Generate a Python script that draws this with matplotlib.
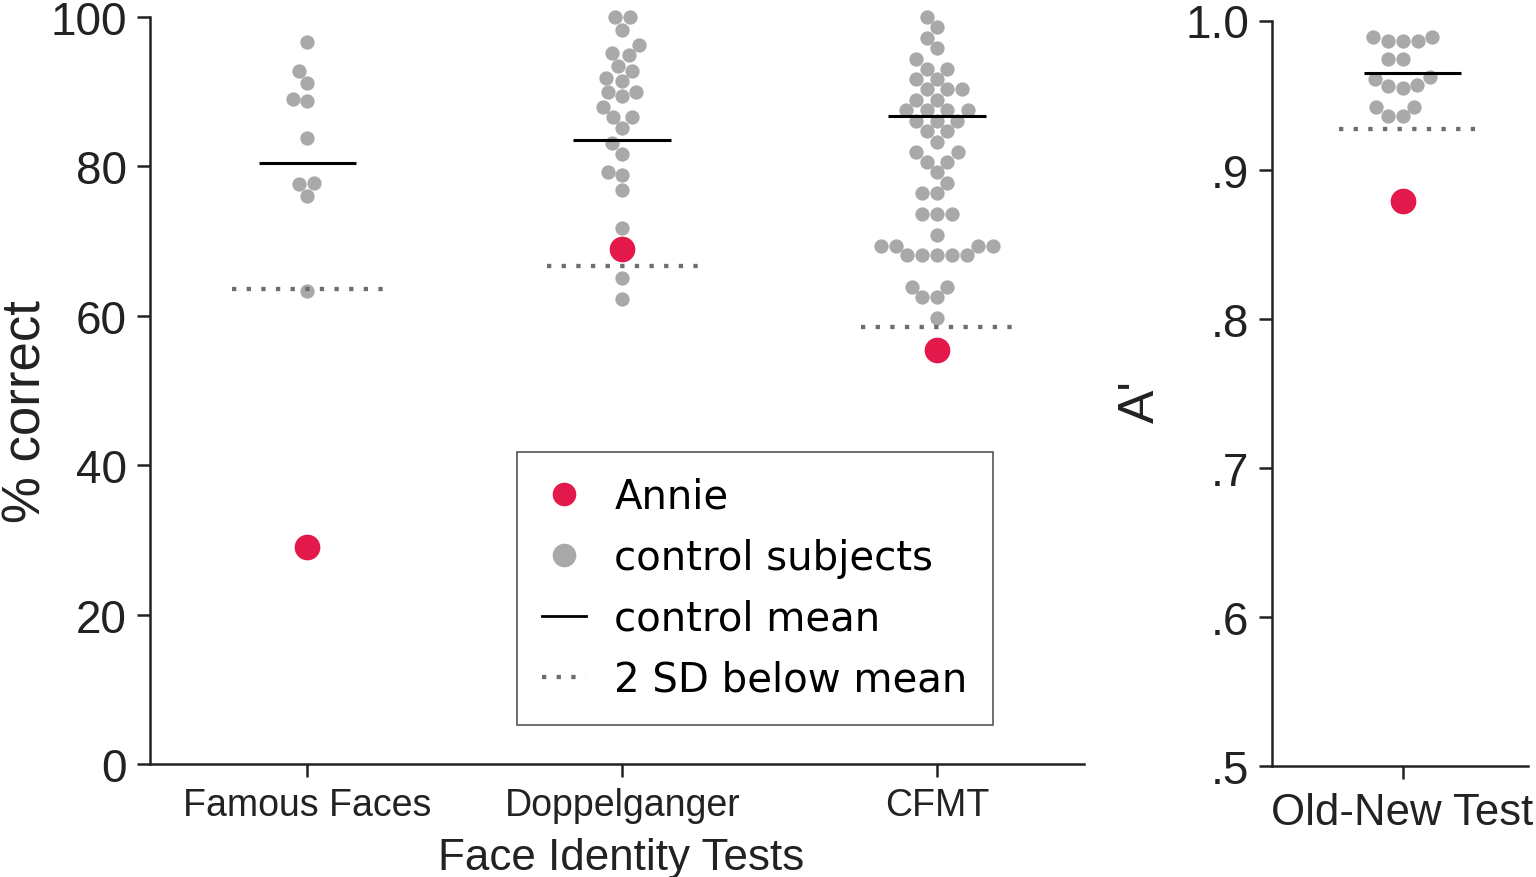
import matplotlib
matplotlib.use("Agg")
import matplotlib.pyplot as plt
import seaborn as sns
import pandas as pd
from matplotlib.lines import Line2D

# ---- data ----
tests = ["Famous Faces", "Doppelganger", "CFMT"]

famous = [96.6, 92.8, 91.2, 89.0, 88.7, 83.8, 77.8, 77.6, 76.0, 63.3]
doppel = [100.0, 100.0, 98.3, 96.3, 95.2, 94.9, 93.5, 92.8, 91.9, 91.4,
          90.0, 90.0, 89.4, 88.0, 86.6, 86.6, 85.1, 83.1, 81.7, 79.3,
          78.9, 76.9, 71.7, 65.0, 62.2]
cfmt = [100.0, 98.6, 97.2, 95.8, 94.4, 93.1, 93.1, 91.7, 91.7, 90.3,
        90.3, 90.3, 88.9, 88.9, 87.5, 87.5, 87.5, 87.5, 86.1, 86.1,
        86.1, 84.7, 84.7, 83.3, 81.9, 81.9, 80.6, 80.6, 79.2, 77.8,
        76.4, 76.4, 73.6, 73.6, 73.6, 70.8, 69.4, 69.4, 69.4, 69.4,
        68.1, 68.1, 68.1, 68.1, 68.1, 63.9, 63.9, 62.5, 62.5, 59.7]
annie_pct = [29.0, 68.9, 55.4]
mean_pct = [80.5, 83.6, 86.8]
sd2_pct = [63.6, 66.6, 58.5]

oldnew_test = ["Old-New Test"]
oldnew = [0.989, 0.989, 0.986, 0.986, 0.986, 0.974, 0.974, 0.962, 0.961,
          0.957, 0.955, 0.956, 0.942, 0.942, 0.936, 0.936]
annie_oldnew = [0.879]
mean_oldnew = [0.965]
sd2_oldnew = [0.927]

GRAY = "#a9a9a9"
RED = "#e3184b"
DOT = "#6e6e6e"
INK = "#222222"

plt.rcParams["font.family"] = ["Liberation Sans", "DejaVu Sans"]

W, H = 1536, 878
fig = plt.figure(figsize=(W / 100, H / 100), dpi=100)


def style(ax):
    for s in ["top", "right"]:
        ax.spines[s].set_visible(False)
    for s in ["left", "bottom"]:
        ax.spines[s].set_linewidth(1.8)
        ax.spines[s].set_color(INK)
    ax.tick_params(axis="both", length=9.5, width=1.8, color=INK,
                   labelcolor=INK)
    ax.tick_params(axis="y", labelsize=33, pad=7)


# ---- left panel: percent correct ----
ax = fig.add_axes([150 / W, 113 / H, 934 / W, 747 / H])
df = pd.DataFrame({
    "test": [tests[0]] * len(famous) + [tests[1]] * len(doppel) + [tests[2]] * len(cfmt),
    "score": famous + doppel + cfmt,
})
sns.swarmplot(data=df, x="test", y="score", order=tests, color=GRAY,
              size=10.3, ax=ax, zorder=2, clip_on=False)
xs = range(len(tests))
ax.scatter(list(xs), annie_pct, s=18.5 ** 2, color=RED, zorder=4, linewidths=0)
for i in xs:
    ax.hlines(mean_pct[i], i - 0.155, i + 0.155, color="black", lw=2.2, zorder=3)
    ax.hlines(sd2_pct[i], i - 0.24, i + 0.24, color=DOT, lw=3.1,
              linestyles=(0, (1, 2.4)), zorder=3)
ax.set_xlim(-0.5, 2.467)
ax.set_ylim(0, 100)
ax.set_yticks([0, 20, 40, 60, 80, 100])
style(ax)
ax.tick_params(axis="x", labelsize=27, pad=7)
ax.set_xlabel("Face Identity Tests", fontsize=31.7, color=INK, labelpad=10)
ax.xaxis.label.set_x(0.5048)
ax.set_ylabel("% correct", fontsize=38, color=INK, labelpad=-1)
ax.yaxis.label.set_y(0.4726)

handles = [
    Line2D([], [], ls="none", marker="o", ms=17, color=RED, mew=0),
    Line2D([], [], ls="none", marker="o", ms=17, color=GRAY, mew=0),
    Line2D([], [], color="black", lw=2.0),
    Line2D([], [], color=DOT, lw=3.1, ls=(0, (1, 2.4))),
]
labels = ["Annie", "control subjects", "control mean", "2 SD below mean"]
leg = fig.legend(handles, labels, loc="upper left",
                 bbox_to_anchor=(517 / W, 1 - 453 / H), borderaxespad=0,
                 prop={"family": "DejaVu Sans", "size": 29},
                 frameon=True, fancybox=False, framealpha=1,
                 edgecolor="#555555", borderpad=0.62, labelspacing=0.52,
                 handlelength=1.1, handletextpad=0.7)
leg.get_frame().set_linewidth(1.2)
for t in leg.get_texts():
    t.set_color("black")

# ---- right panel: A' ----
ax2 = fig.add_axes([1272 / W, 111 / H, 256 / W, 745.5 / H])
df2 = pd.DataFrame({"test": oldnew_test * len(oldnew), "score": oldnew})
sns.swarmplot(data=df2, x="test", y="score", order=oldnew_test, color=GRAY,
              size=10.3, ax=ax2, zorder=2, clip_on=False)
ax2.scatter([0], annie_oldnew, s=18.5 ** 2, color=RED, zorder=4, linewidths=0)
ax2.hlines(mean_oldnew[0], 0.04 - 0.19, 0.04 + 0.19, color="black", lw=2.2, zorder=3)
ax2.hlines(sd2_oldnew[0], 0.03 - 0.28, 0.03 + 0.28, color=DOT, lw=3.1,
           linestyles=(0, (1, 2.4)), zorder=3)
ax2.set_xlim(-0.51, 0.49)
ax2.set_ylim(0.5, 1.0)
ax2.set_yticks([0.5, 0.6, 0.7, 0.8, 0.9, 1.0])
ax2.set_yticklabels([".5", ".6", ".7", ".8", ".9", "1.0"])
style(ax2)
ax2.tick_params(axis="x", labelsize=31.5, pad=9)
ax2.set_xlabel("")
ax2.set_ylabel("A'", fontsize=36, color=INK, labelpad=15)
ax2.yaxis.label.set_y(0.4896)

fig.savefig("out.png", dpi=100)
